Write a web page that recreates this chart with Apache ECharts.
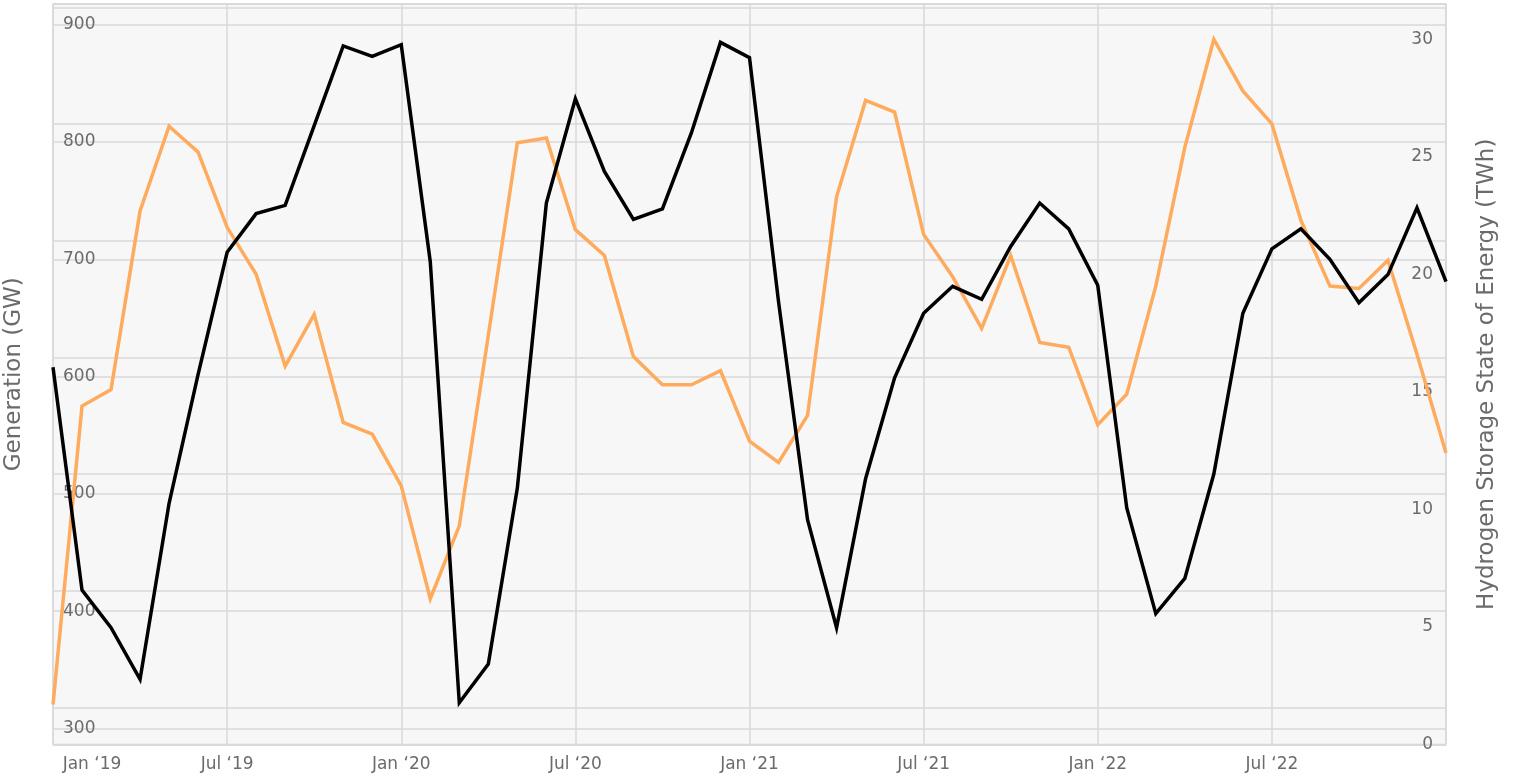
<!DOCTYPE html>
<html>
<head>
<meta charset="utf-8">
<title>Generation vs Hydrogen Storage State of Energy</title>
<script src="https://cdn.jsdelivr.net/npm/echarts@6/dist/echarts.min.js"></script>
<style>
  html, body { margin: 0; padding: 0; background: #fff; }
  #chart { width: 1514px; height: 779px; }
</style>
</head>
<body>
<div id="chart"></div>
<script>
// month labels, Jan '19 .. Jan '23
var monthNames = ["Jan", "Feb", "Mar", "Apr", "May", "Jun", "Jul", "Aug", "Sep", "Oct", "Nov", "Dec"];
var years = ["19", "20", "21", "22", "23"];
var categories = [];
years.forEach(function (y) {
  monthNames.forEach(function (m) {
    categories.push(m + " \u2018" + y);
  });
});
categories = categories.slice(0, 49);

// Generation (GW) - left axis
var generation = [
  608, 418, 386, 342, 492, 602, 706, 739, 746, 814,
  882, 873, 883, 698, 322, 355, 505, 748, 837, 775,
  734, 743, 808, 885, 872, 664, 478, 386, 513, 599,
  654, 677, 666, 711, 748, 726, 678, 488, 398, 428,
  517, 654, 709, 726, 700, 663, 687, 744, 681
];

// Hydrogen storage state of energy (TWh) - right axis
var storage = [
  1.7, 14.4, 15.1, 22.7, 26.3, 25.2, 22.0, 20.0, 16.1, 18.3,
  13.7, 13.2, 11.0, 6.2, 9.3, 17.4, 25.6, 25.8, 21.9, 20.8,
  16.5, 15.3, 15.3, 15.9, 12.9, 12.0, 14.0, 23.3, 27.4, 26.9,
  21.7, 19.9, 17.7, 20.8, 17.1, 16.9, 13.6, 14.9, 19.5, 25.4,
  30.0, 27.8, 26.4, 22.3, 19.5, 19.4, 20.6, 16.6, 12.4
];

var FONT = "DejaVu Sans";
var TXT = "#6b6b6b";
var GRIDC = "#d8d8dd";

var chart = echarts.init(document.getElementById("chart"));

var option = {
  animation: false,
  textStyle: { fontFamily: FONT },
  grid: {
    left: 53,
    right: 68,
    top: 4,
    bottom: 34.5,
    show: true,
    backgroundColor: "#f7f7f7",
    borderColor: GRIDC,
    borderWidth: 1.5,
    containLabel: false,
    outerBoundsMode: "none"
  },
  xAxis: {
    type: "category",
    data: categories,
    boundaryGap: false,
    axisLine: { show: false },
    axisTick: { show: false },
    axisLabel: {
      interval: 5,
      showMaxLabel: false,
      margin: 12,
      color: TXT,
      fontSize: 17,
      fontFamily: FONT,
      formatter: function (v, i) {
        return i === 0 ? "{first|" + v + "}" : v;
      },
      rich: {
        first: { padding: [0, 0, 0, 78], color: TXT, fontSize: 17, fontFamily: FONT }
      }
    },
    splitLine: {
      show: true,
      interval: 5,
      lineStyle: { color: GRIDC, width: 1.5 }
    }
  },
  yAxis: [
    {
      type: "value",
      position: "left",
      min: 286.4,
      max: 917.7,
      splitNumber: 6,
      name: "Generation (GW)",
      nameLocation: "middle",
      nameGap: 27,
      nameTextStyle: { color: TXT, fontSize: 23, fontFamily: FONT },
      axisLine: { show: false },
      axisTick: { show: false },
      axisLabel: {
        inside: true,
        margin: 10,
        showMinLabel: false,
        showMaxLabel: false,
        color: TXT,
        fontSize: 17,
        fontFamily: FONT,
        verticalAlign: "middle",
        padding: [0, 0, 7, 0]
      },
      splitLine: { show: true, lineStyle: { color: GRIDC, width: 1.5 } }
    },
    {
      type: "value",
      position: "right",
      min: 0,
      max: 31.5,
      splitNumber: 6,
      name: "Hydrogen Storage State of Energy (TWh)",
      nameLocation: "middle",
      nameGap: 30,
      nameTextStyle: { color: TXT, fontSize: 23, fontFamily: FONT },
      axisLine: { show: false },
      axisTick: { show: false },
      axisLabel: {
        inside: true,
        margin: 13,
        showMinLabel: true,
        showMaxLabel: false,
        color: TXT,
        fontSize: 17,
        fontFamily: FONT
      },
      splitLine: { show: false }
    },
    {
      // second set of horizontal grid lines on the right scale
      type: "value",
      position: "right",
      min: -0.317,
      max: 6.03,
      splitNumber: 6,
      axisLine: { show: false },
      axisTick: { show: false },
      axisLabel: { show: false },
      splitLine: { show: true, lineStyle: { color: GRIDC, width: 1.5 } }
    }
  ],
  series: [
    {
      name: "Hydrogen Storage State of Energy",
      type: "line",
      yAxisIndex: 1,
      data: storage,
      showSymbol: false,
      lineStyle: { color: "#ffab5e", width: 3.5, join: "miter" },
      itemStyle: { color: "#ffab5e" }
    },
    {
      name: "Generation",
      type: "line",
      yAxisIndex: 0,
      data: generation,
      showSymbol: false,
      lineStyle: { color: "#000", width: 3.5, join: "miter" },
      itemStyle: { color: "#000" }
    }
  ]
};

chart.setOption(option);
</script>
</body>
</html>
